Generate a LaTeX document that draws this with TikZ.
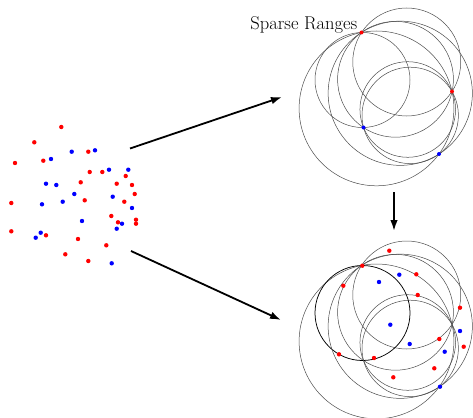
\documentclass[tikz,border=0pt]{standalone}
\usetikzlibrary{arrows.meta}
\begin{document}
\begin{tikzpicture}[x=1pt,y=-1pt,
  rdot/.style={circle,fill=red,draw=none,inner sep=0pt,minimum size=4.4pt},
  bdot/.style={circle,fill=blue,draw=none,inner sep=0pt,minimum size=4.4pt},
  rng/.style={draw=black!70,line width=0.5pt},
  rngsel/.style={draw=black,line width=0.75pt},
  arr/.style={line width=1.8pt,-{Latex[length=11pt,width=7.5pt]}}]
\useasboundingbox (0,0) rectangle (473,417);
\newcommand\myRangeSet[1]{%
  \draw[rng] (376.5,108.4) circle[radius=77.4pt];
  \draw[rng] (395.5,79.3) circle[radius=57.9pt];
  \draw[rng] (410.2,115.4) circle[radius=48.2pt];
  \draw[rng] (406.75,62) circle[radius=54pt];
  \draw[#1] (362.5,80) circle[radius=47.5pt];
  \draw[rng] (400.25,93.25) circle[radius=72.1pt];
  \draw[rng] (407.75,109.5) circle[radius=47.8pt];
}
% left point set
\node[rdot] (l1) at (61.3,127) {};
\node[rdot] (l2) at (34.3,142.3) {};
\node[rdot] (l3) at (88.3,151.7) {};
\node[rdot] (l4) at (15,163) {};
\node[rdot] (l5) at (43.3,160.7) {};
\node[rdot] (l6) at (89.7,172) {};
\node[rdot] (l7) at (102.3,172) {};
\node[rdot] (l8) at (125.7,176) {};
\node[rdot] (l9) at (80.7,182.3) {};
\node[rdot] (l10) at (116.7,183.7) {};
\node[rdot] (l11) at (132,185) {};
\node[rdot] (l12) at (134.7,194) {};
\node[rdot] (l13) at (84.7,200.3) {};
\node[rdot] (l14) at (124.3,201.7) {};
\node[rdot] (l15) at (11.3,203) {};
\node[rdot] (l16) at (111.3,216) {};
\node[rdot] (l17) at (136,219.7) {};
\node[rdot] (l18) at (118,222.3) {};
\node[rdot] (l19) at (136,223.7) {};
\node[rdot] (l20) at (11.3,231.3) {};
\node[rdot] (l21) at (46,235.3) {};
\node[rdot] (l22) at (78,239) {};
\node[rdot] (l23) at (106.3,245.3) {};
\node[rdot] (l24) at (65.3,254.3) {};
\node[rdot] (l25) at (88.3,261) {};
\node[bdot] (m1) at (71.7,151.7) {};
\node[bdot] (m2) at (95,150.3) {};
\node[bdot] (m3) at (51,159) {};
\node[bdot] (m4) at (109,169.7) {};
\node[bdot] (m5) at (128.3,169.7) {};
\node[bdot] (m6) at (46,183.7) {};
\node[bdot] (m7) at (56.3,185) {};
\node[bdot] (m8) at (74.3,194) {};
\node[bdot] (m9) at (112.7,196.7) {};
\node[bdot] (m10) at (62.7,201.7) {};
\node[bdot] (m11) at (42,204.3) {};
\node[bdot] (m12) at (132,208) {};
\node[bdot] (m13) at (82,221) {};
\node[bdot] (m14) at (122,223.7) {};
\node[bdot] (m15) at (116.7,228.7) {};
\node[bdot] (m16) at (40.7,232.7) {};
\node[bdot] (m17) at (35.7,237.7) {};
\node[bdot] (m18) at (111.7,263.3) {};
% top panel: sparse ranges
\myRangeSet{rng}
\node[rdot,minimum size=4pt] (ta) at (361.5,32.5) {};
\node[rdot,minimum size=4pt] (tb) at (452,91.5) {};
\node[bdot,minimum size=4pt] (tc) at (363.5,127.5) {};
\node[bdot,minimum size=4pt] (td) at (439,154) {};
\node[anchor=base east,inner sep=0pt,font=\fontsize{18.5}{21}\selectfont] (title) at (357.5,30) {Sparse Ranges};
% bottom panel
\begin{scope}[shift={(0,233)}]
\myRangeSet{rngsel}
\end{scope}
\node[rdot] (r1) at (389.3,250.7) {};
\node[rdot] (r2) at (362.3,265.7) {};
\node[rdot] (r3) at (416.3,274.3) {};
\node[rdot] (r4) at (343.3,285.7) {};
\node[rdot] (r5) at (417.7,295) {};
\node[rdot] (r6) at (460,307.7) {};
\node[rdot] (r7) at (439.3,339) {};
\node[rdot] (r8) at (463.7,346.7) {};
\node[rdot] (r9) at (339,354.3) {};
\node[rdot] (r10) at (374,358) {};
\node[rdot] (r11) at (434.3,368.3) {};
\node[rdot] (r12) at (393.3,377.3) {};
\node[bdot] (s1) at (399.3,274.7) {};
\node[bdot] (s2) at (379,282) {};
\node[bdot] (s3) at (390.3,324.7) {};
\node[bdot] (s4) at (460,331) {};
\node[bdot] (s5) at (409.7,344) {};
\node[bdot] (s6) at (444.7,351.7) {};
\node[bdot] (s7) at (440,386.7) {};
% arrows
\coordinate (a1s) at (130,148.5);
\coordinate (a1e) at (282,97);
\coordinate (a2s) at (131,251);
\coordinate (a2e) at (281,320);
\coordinate (a3s) at (394,192);
\coordinate (a3e) at (394,231);
\draw[arr] (a1s) -- (a1e);
\draw[arr] (a2s) -- (a2e);
\draw[arr] (a3s) -- (a3e);
\end{tikzpicture}
\end{document}
